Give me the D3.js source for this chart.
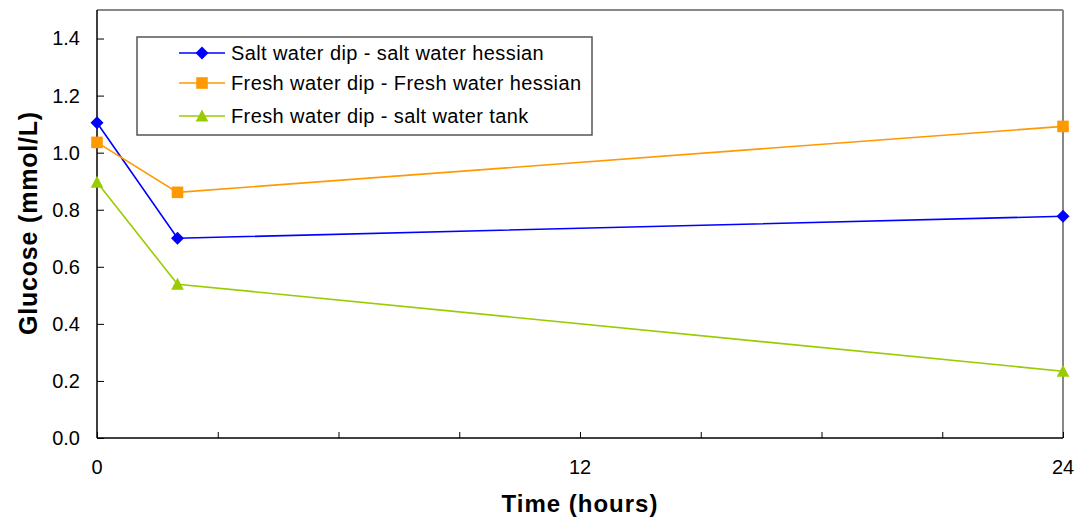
<!DOCTYPE html>
<html><head><meta charset="utf-8">
<script src="https://cdn.jsdelivr.net/npm/d3@7"></script>
<style>body{margin:0;background:#fff}svg{display:block}</style>
</head><body>
<svg id="c" width="1079" height="520"></svg>
<script>
const hours = [0, 2, 24];
const seriesNames = ["Salt water dip - salt water hessian", "Fresh water dip - Fresh water hessian", "Fresh water dip - salt water tank"];
const saltSalt = [1.105, 0.70, 0.777];
const freshFresh = [1.036, 0.861, 1.092];
const freshTank = [0.896, 0.539, 0.234];
const yTicks = [0, 0.2, 0.4, 0.6, 0.8, 1.0, 1.2, 1.4];
const xMinorTicks = [0, 3, 6, 9, 12, 15, 18, 21, 24];
const xLabels = [0, 12, 24];

const colors = ["#0000FF", "#FF9900", "#99CC00"];
const data = [saltSalt, freshFresh, freshTank];

// marker shapes
const diamond = "M0,-6.5L6.5,0L0,6.5L-6.5,0Z";
const square = "M-5.8,-5.8H5.8V5.8H-5.8Z";
const triangle = "M0,-6.5L6.3,5.5L-6.3,5.5Z";
const shapes = [diamond, square, triangle];

const svg = d3.select("#c");
const L = 97, R = 1063, T = 10, B = 438;
const x = d3.scaleLinear().domain([0, 24]).range([L, R]);
const y = d3.scaleLinear().domain([0, 1.5]).range([B, T]);
const FONT = "Liberation Sans, Arial, sans-serif";

// frame
svg.append("line").attr("x1", L).attr("x2", R).attr("y1", T).attr("y2", T).attr("stroke", "#888").attr("stroke-width", 2);
svg.append("line").attr("x1", R).attr("x2", R).attr("y1", T).attr("y2", B).attr("stroke", "#888").attr("stroke-width", 2);

// y axis
const ya = svg.append("g").attr("transform", `translate(${L},0)`)
  .call(d3.axisRight(y).tickValues(yTicks).tickSize(7).tickFormat(d3.format(".1f")));
ya.select(".domain").attr("stroke", "#000").attr("stroke-width", 1.5).attr("d", `M0,${T}V${B}`);
ya.selectAll(".tick line").attr("stroke", "#000");
ya.selectAll(".tick text").attr("x", -17).attr("text-anchor", "end")
  .attr("font-family", FONT).attr("font-size", 20).attr("fill", "#000");

// x axis
const xa = svg.append("g").attr("transform", `translate(0,${B})`)
  .call(d3.axisTop(x).tickValues(xMinorTicks).tickSize(6).tickFormat(""));
xa.select(".domain").attr("stroke", "#000").attr("stroke-width", 1.5).attr("d", `M${L},0H${R}`);
xa.selectAll(".tick line").attr("stroke", "#000");
svg.append("g").selectAll("text").data(xLabels).join("text")
  .attr("x", d => x(d)).attr("y", 474).attr("text-anchor", "middle")
  .attr("font-family", FONT).attr("font-size", 20).attr("fill", "#000").text(d => d);

// titles
svg.append("text").attr("x", x(12)).attr("y", 512).attr("text-anchor", "middle")
  .attr("font-family", FONT).attr("font-weight", "bold").attr("font-size", 24).attr("letter-spacing", 1)
  .text("Time (hours)");
svg.append("text").attr("transform", `translate(37,223) rotate(-90)`).attr("text-anchor", "middle")
  .attr("font-family", FONT).attr("font-weight", "bold").attr("font-size", 25).attr("letter-spacing", 0.8)
  .text("Glucose (mmol/L)");

// series
const line = d3.line().x((d, i) => x(hours[i])).y(d => y(d));
data.forEach((vals, s) => {
  svg.append("path").datum(vals).attr("d", line).attr("fill", "none").attr("stroke", colors[s]).attr("stroke-width", 1.6);
  svg.append("g").selectAll("path").data(vals).join("path")
    .attr("transform", (d, i) => `translate(${x(hours[i])},${y(d)})`)
    .attr("d", shapes[s]).attr("fill", colors[s]);
});

// legend
const lg = svg.append("g");
lg.append("rect").attr("x", 137).attr("y", 37).attr("width", 455).attr("height", 98)
  .attr("fill", "#fff").attr("stroke", "#555").attr("stroke-width", 1.5);
const rowsY = [53, 83, 116];
seriesNames.forEach((n, s) => {
  lg.append("line").attr("x1", 179).attr("x2", 225).attr("y1", rowsY[s]).attr("y2", rowsY[s]).attr("stroke", colors[s]).attr("stroke-width", 1.6);
  lg.append("path").attr("transform", `translate(202,${rowsY[s]})`).attr("d", shapes[s]).attr("fill", colors[s]);
  lg.append("text").attr("x", 231).attr("y", rowsY[s] + 7).attr("font-family", FONT)
    .attr("font-size", 20).attr("letter-spacing", 0.4).attr("fill", "#000").text(n);
});
</script>
</body></html>
